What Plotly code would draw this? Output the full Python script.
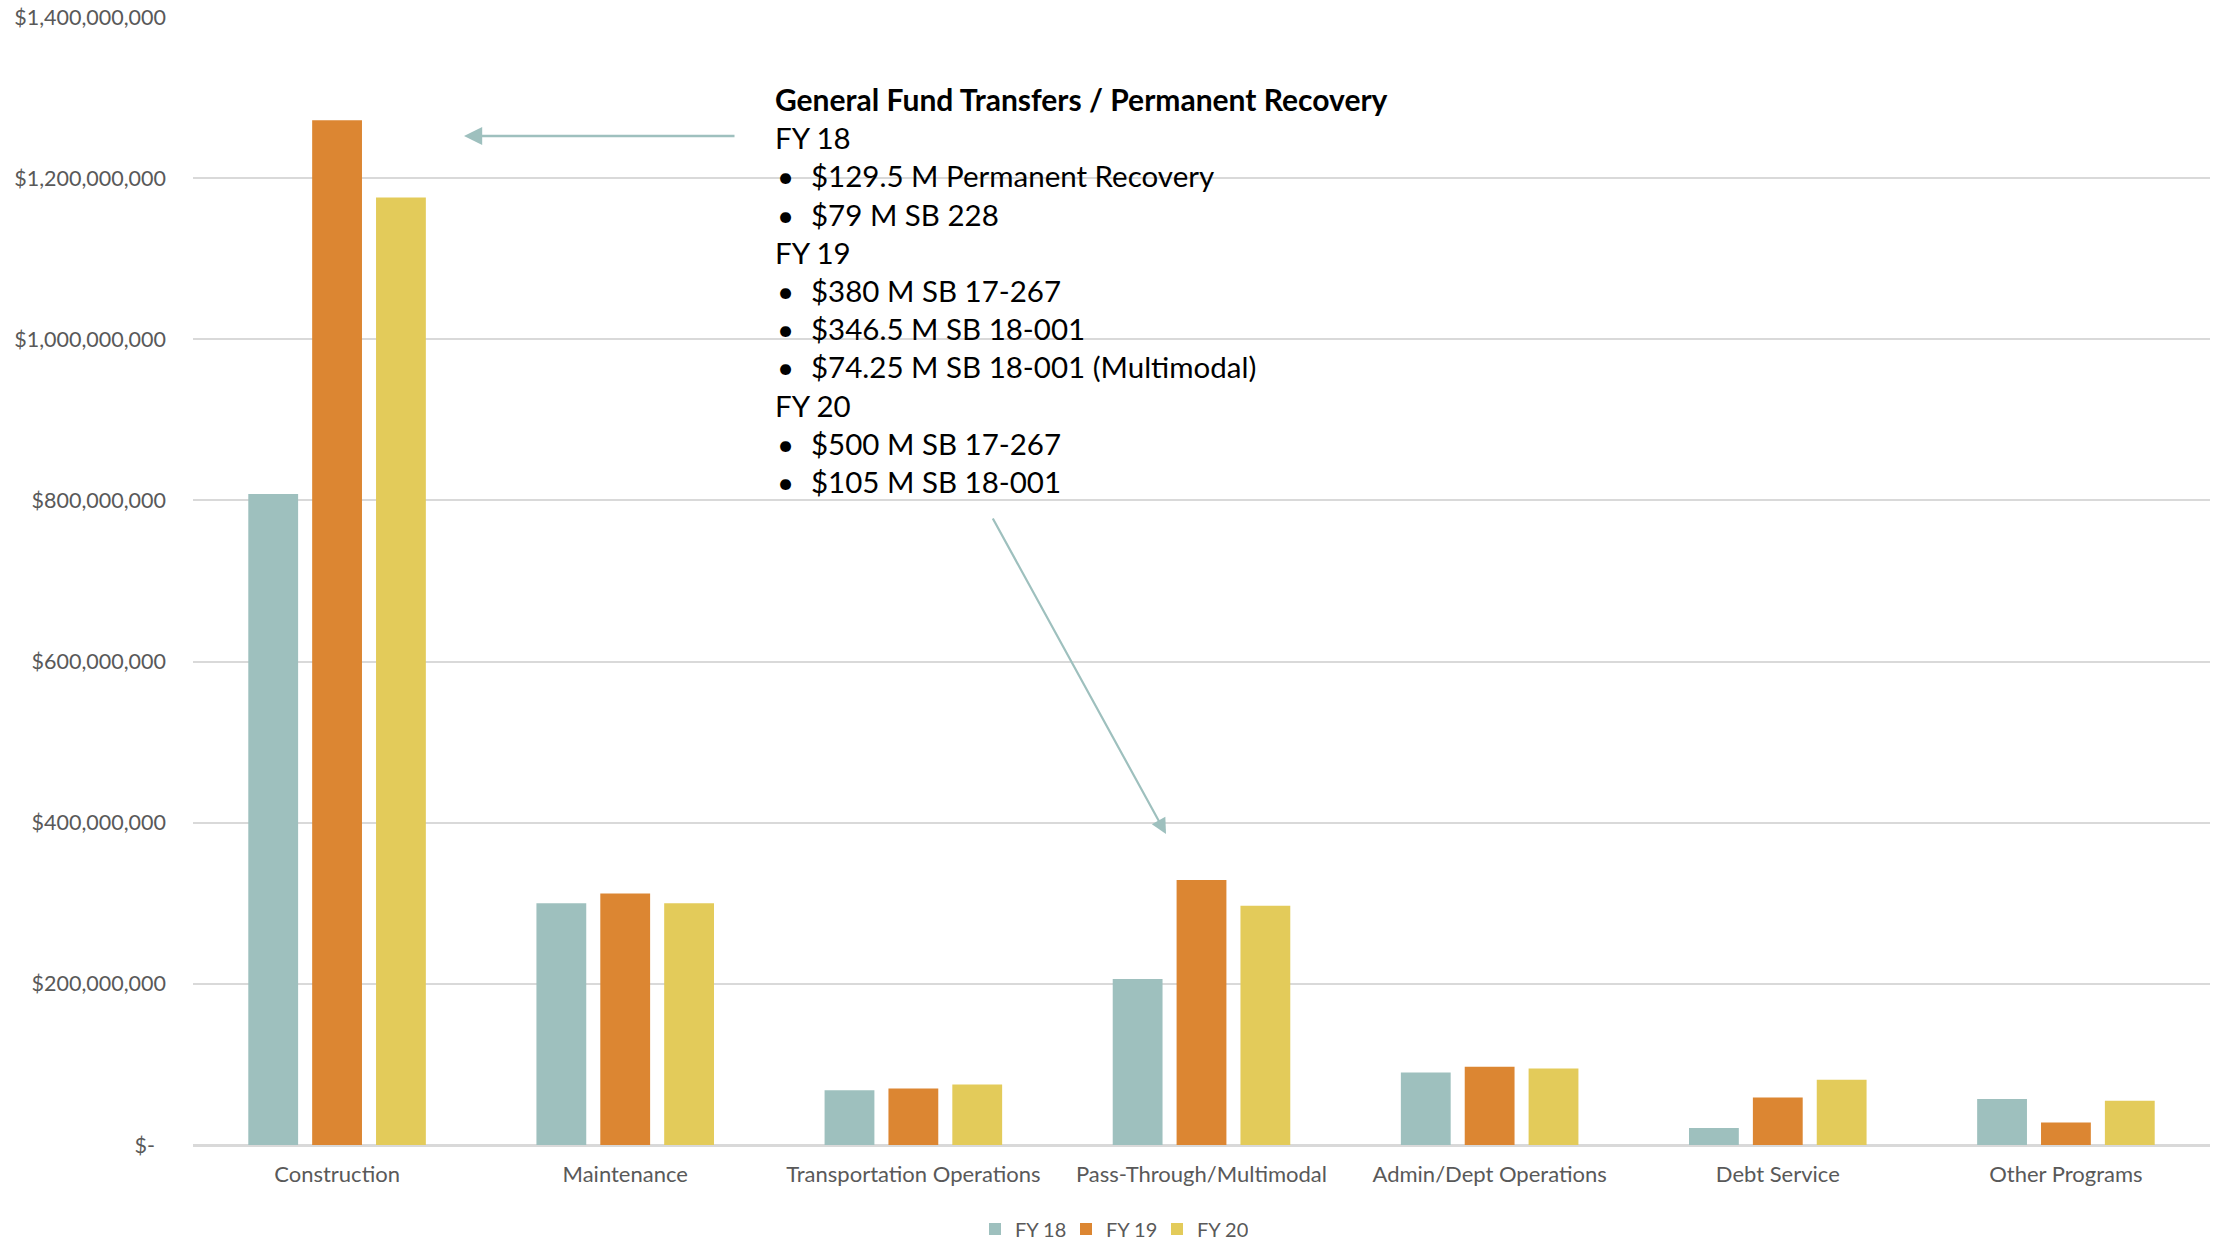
import plotly.graph_objects as go

# ---------------- data ----------------
categories = ["Construction", "Maintenance", "Transportation Operations",
              "Pass-Through/Multimodal", "Admin/Dept Operations",
              "Debt Service", "Other Programs"]
series_names = ["FY 18", "FY 19", "FY 20"]
fy18 = [808e6, 300e6, 68e6, 206e6, 90e6, 21e6, 57e6]
fy19 = [1272e6, 312e6, 70e6, 329e6, 97e6, 59e6, 28e6]
fy20 = [1176e6, 300e6, 75e6, 297e6, 95e6, 81e6, 55e6]
series_colors = ["#9EC0BE", "#DC8632", "#E3CB5A"]

y_tickvals = [0, 200e6, 400e6, 600e6, 800e6, 1000e6, 1200e6, 1400e6]
y_ticktext = ["$-\u00a0\u00a0", "$200,000,000", "$400,000,000", "$600,000,000",
              "$800,000,000", "$1,000,000,000", "$1,200,000,000", "$1,400,000,000"]

note_title = "General Fund Transfers / Permanent Recovery"
note_lines = [
    ("FY 18", False),
    ("$129.5 M Permanent Recovery", True),
    ("$79 M SB 228", True),
    ("FY 19", False),
    ("$380 M SB 17-267", True),
    ("$346.5 M SB 18-001", True),
    ("$74.25 M SB 18-001 (Multimodal)", True),
    ("FY 20", False),
    ("$500 M SB 17-267", True),
    ("$105 M SB 18-001", True),
]

# ---------------- layout geometry ----------------
W, H = 2221, 1241
L, R, T, B = 193, 11, 17, 96
PW, PH = W - L - R, H - T - B


def px_x(px):
    return (px - L) / PW


def px_y(py):
    return (H - B - py) / PH


FONT = "Lato, 'Open Sans', sans-serif"
GREY = "#595959"

fig = go.Figure()
for name, vals, col in zip(series_names, [fy18, fy19, fy20], series_colors):
    fig.add_trace(go.Bar(x=categories, y=vals, name=name,
                         marker=dict(color=col, line=dict(width=0))))

annotations = []
line_y0 = 99.5
line_step = 38.2
annotations.append(dict(
    xref="paper", yref="paper", x=px_x(773), y=px_y(line_y0),
    xanchor="left", yanchor="middle", showarrow=False,
    text="<b>" + note_title + "</b>",
    font=dict(family=FONT, size=30, color="#000000")))
for i, (txt, bullet) in enumerate(note_lines):
    yy = px_y(line_y0 + (i + 1) * line_step)
    if bullet:
        annotations.append(dict(
            xref="paper", yref="paper", x=px_x(775), y=yy,
            xanchor="left", yanchor="middle", showarrow=False,
            text="•", font=dict(family=FONT, size=29.5, color="#000000")))
        annotations.append(dict(
            xref="paper", yref="paper", x=px_x(809), y=yy,
            xanchor="left", yanchor="middle", showarrow=False,
            text=txt, font=dict(family=FONT, size=29.5, color="#000000")))
    else:
        annotations.append(dict(
            xref="paper", yref="paper", x=px_x(773), y=yy,
            xanchor="left", yanchor="middle", showarrow=False,
            text=txt, font=dict(family=FONT, size=29.5, color="#000000")))

# arrows
ARROW = "#9EC0BE"
annotations.append(dict(
    xref="paper", yref="paper", x=px_x(464), y=px_y(136),
    ax=272, ay=0, axref="pixel", ayref="pixel",
    showarrow=True, arrowhead=2, arrowsize=1.4, arrowwidth=2.6,
    arrowcolor=ARROW, text=""))
annotations.append(dict(
    xref="paper", yref="paper", x=px_x(1166), y=px_y(834),
    ax=-174, ay=-317, axref="pixel", ayref="pixel",
    showarrow=True, arrowhead=2, arrowsize=1.4, arrowwidth=2.2,
    arrowcolor=ARROW, text=""))

fig.update_layout(
    width=W, height=H,
    margin=dict(l=L, r=R, t=T, b=B, pad=0, autoexpand=False),
    paper_bgcolor="white", plot_bgcolor="white",
    barmode="group", bargap=0.335, bargroupgap=0.22,
    font=dict(family=FONT, color=GREY),
    showlegend=True,
    legend=dict(orientation="h", xref="container", yref="container",
                x=975 / W, y=(H - 1229) / H,
                xanchor="left", yanchor="middle",
                font=dict(family=FONT, size=20, color=GREY),
                itemwidth=30, traceorder="normal",
                entrywidth=46, entrywidthmode="pixels"),
    annotations=annotations,
)
fig.update_xaxes(showgrid=False, showline=False, ticks="", automargin=False,
                 tickfont=dict(family=FONT, size=22, color=GREY),
                 ticklabelstandoff=14)
fig.update_yaxes(range=[0, 1400e6], tickvals=y_tickvals, ticktext=y_ticktext,
                 showgrid=True, gridcolor="#D9D9D9", gridwidth=1.5,
                 zeroline=True, zerolinecolor="#D9D9D9", zerolinewidth=2.5,
                 showline=False, ticks="", automargin=False,
                 tickfont=dict(family=FONT, size=21.5, color=GREY),
                 ticklabelstandoff=26)

fig.write_html("out.html")
